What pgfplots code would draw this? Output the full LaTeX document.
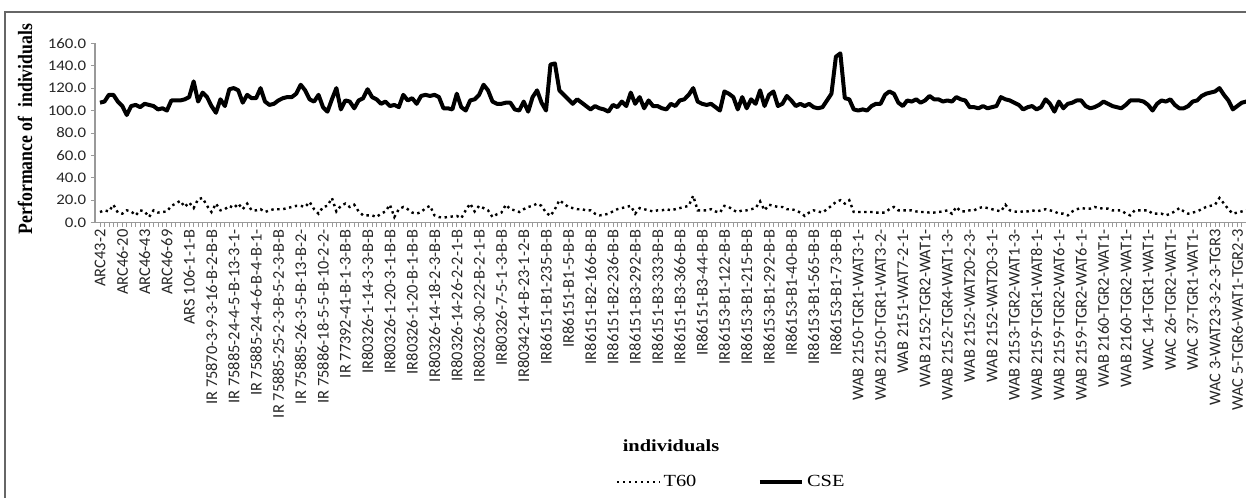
\documentclass[border=0pt]{standalone}
\usepackage{fontspec}
\setmainfont{Liberation Serif}
\newfontfamily\calibri{Carlito}
\newfontfamily\calibriwide[FakeStretch=1.15]{Carlito}
\newfontfamily\serifwide[FakeStretch=1.2]{Liberation Serif}
\usepackage{pgfplots}
\usepackage{pgfplotstable}
\pgfplotsset{compat=1.18}

\pgfplotstableread[row sep=\\]{v\\
107\\108\\114\\114\\108\\104\\96\\104\\105\\103\\
106\\105\\104\\101\\102\\100\\109\\109\\109\\110\\
112\\126\\108\\116\\112\\104\\98\\110\\104\\119\\
120\\118\\107\\114\\111\\111\\120\\108\\105\\106\\
109\\111\\112\\112\\115\\123\\118\\110\\108\\114\\
103\\99\\110\\120\\101\\109\\108\\102\\109\\111\\
119\\112\\110\\106\\108\\104\\105\\103\\114\\109\\
111\\106\\113\\114\\113\\114\\112\\102\\102\\101\\
115\\103\\100\\109\\110\\114\\123\\118\\108\\106\\
106\\107\\107\\101\\100\\108\\99\\112\\118\\107\\
100\\141\\142\\118\\114\\110\\106\\110\\107\\104\\
101\\104\\102\\101\\99\\105\\103\\108\\104\\116\\
106\\112\\102\\109\\104\\104\\102\\101\\106\\104\\
109\\110\\114\\120\\108\\106\\105\\106\\103\\100\\
117\\115\\112\\101\\112\\102\\110\\106\\118\\104\\
114\\117\\104\\106\\113\\109\\104\\106\\104\\106\\
103\\102\\103\\109\\115\\148\\151\\111\\110\\101\\
100\\101\\100\\104\\106\\106\\114\\117\\115\\107\\
104\\109\\108\\110\\107\\109\\113\\110\\110\\108\\
109\\108\\112\\110\\109\\103\\103\\102\\104\\102\\
103\\104\\112\\110\\109\\107\\105\\101\\103\\104\\
101\\103\\110\\106\\99\\108\\102\\106\\107\\109\\
109\\104\\102\\103\\105\\108\\106\\104\\103\\102\\
105\\109\\109\\109\\108\\105\\100\\106\\109\\108\\
110\\105\\102\\102\\104\\108\\109\\113\\115\\116\\
117\\120\\114\\109\\101\\104\\107\\108\\
}\csedata

\pgfplotstableread[row sep=\\]{v\\
9.5\\11\\10\\16\\9\\8\\11\\10\\6.5\\11\\
10\\5\\11\\9\\9.5\\10\\15\\17\\19.5\\14\\
18\\13\\21\\22\\15\\9.5\\17\\11\\12\\15\\
13\\17\\12\\17\\11\\11\\12\\9.5\\11\\12\\
12\\12\\13\\14\\15\\15\\14\\18.5\\12\\8\\
14\\15\\22\\10\\15\\17\\14\\16\\10\\6.5\\
6.5\\6.5\\5\\8\\10\\16\\5\\12\\14\\12\\
9\\8\\9.5\\13\\15\\6.5\\5\\4.5\\5\\5.5\\
6\\4\\11\\17\\10\\15\\13\\11\\5\\7.5\\
9\\16\\12\\11\\9.5\\12\\14\\15\\17\\15\\
9\\6\\12\\20\\17\\14\\13\\12\\12\\11\\
11\\8\\6.5\\7\\8\\10\\12\\13\\14\\15\\
8\\13\\12\\11\\10\\11\\11\\12\\11\\12\\
13\\14\\15\\24\\11\\11\\11\\12\\10\\9\\
15\\14\\11\\9.5\\11\\11\\12\\13\\19\\11\\
16\\15\\14\\14\\12\\12\\11\\9\\6\\9\\
11\\10\\9\\12\\15\\18.5\\20\\17\\20\\9.5\\
9.5\\9.5\\9.5\\9.5\\9\\9\\9\\12\\14\\11\\
11\\11\\11\\10\\9.5\\9.5\\9\\9\\9.5\\10\\
11\\8\\14\\10\\10\\11\\11\\13\\14\\13\\
12\\11\\10\\16\\11\\10\\9.5\\10\\10\\11\\
10\\11\\12\\11\\10\\8\\8\\6.5\\10\\12\\
13\\12.5\\12.5\\14\\13\\12.5\\12.5\\11\\11\\11\\
8\\6.5\\11\\11\\11\\11\\8\\8\\8\\6.5\\
8\\10\\13\\10\\8\\9\\10\\12\\14\\15\\
16\\22\\17\\12\\8\\9\\10\\11\\
}\tsixtydata

\begin{document}
\begin{tikzpicture}
\useasboundingbox (0,0) rectangle (934.5pt,373.5pt);
\draw[black!60, line width=0.8pt] (3.75pt,0pt) -- (3.75pt,364.5pt) -- (934.5pt,364.5pt);
\begin{axis}[
  at={(71.25pt,206.5pt)}, anchor=south west,
  scale only axis, width=863.25pt, height=134.55pt,
  xmin=-1.12, xmax=256.95, ymin=0, ymax=160,
  axis lines=left, axis line style={-, draw=black!40, line width=0.8pt},
  tick align=outside, major tick length=3pt, minor tick length=3pt,
  tick style={draw=black!40, line width=0.6pt},
  xtick={0,5,...,255},
  minor xtick={0,...,257},
  xticklabels={ARC43-2,ARC46-20,ARC46-43,ARC46-69,ARS 106-1-1-B,IR 75870-3-9-3-16-B-2-B-B,IR 75885-24-4-5-B-13-3-1-,IR 75885-24-4-6-B-4-B-1-,IR 75885-25-2-3-B-5-2-3-B-B,IR 75885-26-3-5-B-13-B-2-,IR 75886-18-5-5-B-10-2-2-,IR 77392-41-B-1-3-B-B,IR80326-1-14-3-3-B-B,IR80326-1-20-3-1-B-B,IR80326-1-20-B-1-B-B,IR80326-14-18-2-3-B-B,IR80326-14-26-2-2-1-B,IR80326-30-22-B-2-1-B,IR80326-7-5-1-3-B-B,IR80342-14-B-23-1-2-B,IR86151-B1-235-B-B,IR86151-B1-5-B-B,IR86151-B2-166-B-B,IR86151-B2-236-B-B,IR86151-B3-292-B-B,IR86151-B3-333-B-B,IR86151-B3-366-B-B,IR86151-B3-44-B-B,IR86153-B1-122-B-B,IR86153-B1-215-B-B,IR86153-B1-292-B-B,IR86153-B1-40-B-B,IR86153-B1-565-B-B,IR86153-B1-73-B-B,WAB 2150-TGR1-WAT3-1-,WAB 2150-TGR1-WAT3-2-,WAB 2151-WAT7-2-1-,WAB 2152-TGR2-WAT1-,WAB 2152-TGR4-WAT1-3-,WAB 2152-WAT20-2-3-,WAB 2152-WAT20-3-1-,WAB 2153-TGR2-WAT1-3-,WAB 2159-TGR1-WAT8-1-,WAB 2159-TGR2-WAT6-1-,WAB 2159-TGR2-WAT6-1-,WAB 2160-TGR2-WAT1-,WAB 2160-TGR2-WAT1-,WAC 14-TGR1-WAT1-,WAC 26-TGR2-WAT1-,WAC 37-TGR1-WAT1-,WAC 3-WAT23-3-2-3-TGR3,WAC 5-TGR6-WAT1-TGR2-3},
  xticklabel style={rotate=90, anchor=east, font=\calibri\fontsize{12.3}{12}\selectfont, text=black!85, inner sep=2pt},
  ytick={0,20,...,160},
  yticklabel style={font=\calibriwide\fontsize{11}{11}\selectfont, text=black!85, /pgf/number format/.cd, fixed, fixed zerofill, precision=1, assume math mode=true},
  clip=true,
  legend style={at={(axis description cs:0.553,-1.444)}, anchor=center, draw=none, fill=none,
    font=\serifwide\fontsize{12.75}{13}\selectfont,
    /tikz/every even column/.append style={column sep=44pt}},
  legend columns=2,
  legend image code/.code={\draw[#1] (0pt,0pt) -- (32pt,0pt);},
]
\addplot[black, line width=1.8pt, dash pattern=on 1.8pt off 2.7pt] table[x expr=\coordindex, y=v] {\tsixtydata};
\addlegendentry{T60}
\addplot[black, line width=3pt, line join=round] table[x expr=\coordindex, y=v] {\csedata};
\addlegendentry{CSE}
\end{axis}
\node[font=\serifwide\bfseries\fontsize{12.75}{13}\selectfont] at (503.25pt,39pt) {individuals};
\node[rotate=90, yscale=1.15, font=\bfseries\fontsize{13.3}{14}\selectfont] at (18.75pt,276.75pt) {Performance of\ \ individuals};
\end{tikzpicture}
\end{document}
